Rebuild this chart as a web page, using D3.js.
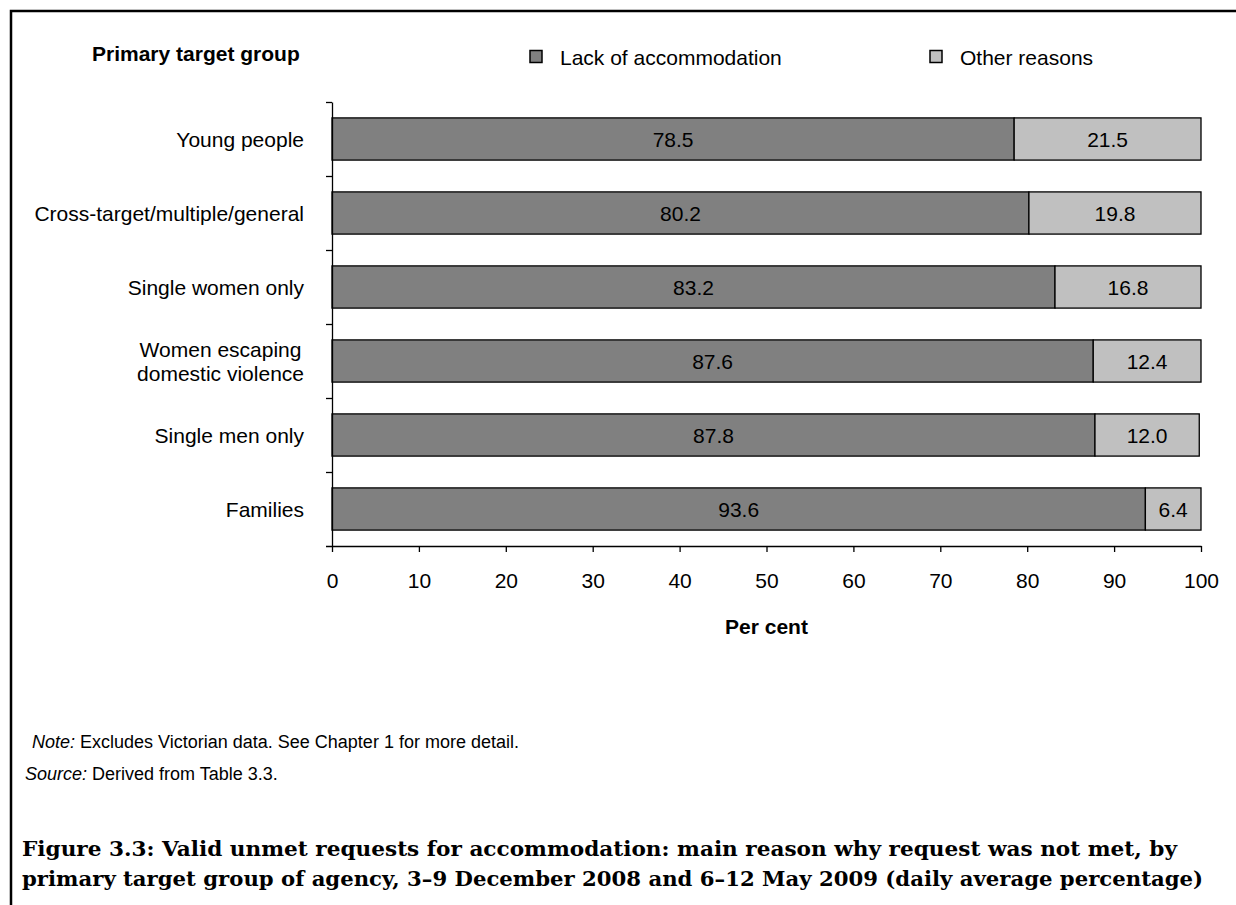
<!DOCTYPE html>
<html><head><meta charset="utf-8">
<script src="https://cdn.jsdelivr.net/npm/d3@7"></script>
<style>
body{margin:0;background:#fff;}
svg{display:block;font-family:Arial,"Liberation Sans",sans-serif;}
</style></head>
<body>
<svg id="chart" width="1236" height="905"></svg>
<script>
const categories = ["Young people","Cross-target/multiple/general","Single women only","Women escaping\ndomestic violence","Single men only","Families"];
const lackOfAccommodation = [78.5,80.2,83.2,87.6,87.8,93.6];
const otherReasons = [21.5,19.8,16.8,12.4,12.0,6.4];
const seriesNames = ["Lack of accommodation","Other reasons"];
const xTicks = [0,10,20,30,40,50,60,70,80,90,100];
const colors = ["#808080","#c0c0c0"];

const FS = 21;
const svg = d3.select("#chart");
svg.append("rect").attr("x",0).attr("y",0).attr("width",1236).attr("height",905).attr("fill","#fff");
// frame: top and left lines
svg.append("path").attr("d","M11,905V11H1236").attr("fill","none").attr("stroke","#000").attr("stroke-width",2.5);

const m = {left:332, top:102, width:869, height:444};
const g = svg.append("g").attr("transform",`translate(${m.left},${m.top})`);
const x = d3.scaleLinear().domain([0,100]).range([0,m.width]);
const y = d3.scaleBand().domain(categories).range([0,m.height]).paddingInner(0.43).paddingOuter(0.215);
const yb = d3.scaleLinear().domain([0,categories.length]).range([0,m.height]);

const rows = categories.map((c,i)=>({cat:c, vals:[lackOfAccommodation[i], otherReasons[i]]}));
rows.forEach(r=>{
  let acc=0;
  r.vals.forEach((v,k)=>{
    const x0=acc; acc+=v;
    g.append("rect").attr("x",x(x0)).attr("y",y(r.cat)).attr("width",x(acc)-x(x0)).attr("height",y.bandwidth())
      .attr("fill",colors[k]).attr("stroke","#000").attr("stroke-width",1.3);
    g.append("text").attr("x",(x(x0)+x(acc))/2).attr("y",y(r.cat)+y.bandwidth()/2).attr("dy","0.36em")
      .attr("text-anchor","middle").attr("font-size",FS).attr("fill","#000").text(d3.format(".1f")(v));
  });
});

// axes
const xa = g.append("g").attr("transform",`translate(0,${m.height})`)
  .call(d3.axisBottom(x).tickValues(xTicks).tickSize(6).tickSizeOuter(0).tickPadding(21));
xa.selectAll("text").attr("font-size",FS).attr("font-family","Arial,'Liberation Sans',sans-serif").attr("fill","#000");
xa.select(".domain").attr("d",`M-6,0.5H${m.width+0.5}`).attr("stroke","#000").attr("stroke-width",1.3);
xa.selectAll(".tick line").attr("stroke","#000").attr("stroke-width",1.3);

const ya = g.append("g").call(d3.axisLeft(yb).tickValues(d3.range(0,categories.length)).tickFormat("").tickSize(6).tickSizeOuter(0));
ya.select(".domain").attr("stroke","#000").attr("stroke-width",1.3);
ya.selectAll(".tick line").attr("stroke","#000").attr("stroke-width",1.3);

// category labels
categories.forEach(c=>{
  const lines=c.split("\n");
  const t=svg.append("text").attr("font-size",FS).attr("fill","#000");
  const cy=m.top+y(c)+y.bandwidth()/2;
  if(lines.length===1){
    t.attr("x",m.left-28).attr("y",cy).attr("dy","0.36em").attr("text-anchor","end").text(c);
  } else {
    t.attr("text-anchor","middle");
    lines.forEach((l,i)=>t.append("tspan").attr("x",0).attr("y",cy+(i-(lines.length-1)/2)*24).attr("dy","0.36em").text(l));
    const w=t.node().getBBox().width;
    t.selectAll("tspan").attr("x",m.left-28-w/2);
  }
});

svg.append("text").attr("x",m.left+m.width/2).attr("y",634).attr("text-anchor","middle").attr("font-size",FS).attr("font-weight","bold").text("Per cent");
svg.append("text").attr("x",92).attr("y",61).attr("font-size",FS).attr("font-weight","bold").text("Primary target group");

// legend
const legX=[530,930];
seriesNames.forEach((s,i)=>{
  svg.append("rect").attr("x",legX[i]).attr("y",50.5).attr("width",12).attr("height",12).attr("fill",colors[i]).attr("stroke","#000").attr("stroke-width",1.5);
  svg.append("text").attr("x",legX[i]+30).attr("y",65).attr("font-size",FS).text(s);
});

// notes
const note=svg.append("text").attr("x",32).attr("y",748).attr("font-size",18);
note.append("tspan").attr("font-style","italic").text("Note:");
note.append("tspan").text(" Excludes Victorian data. See Chapter 1 for more detail.");
const src=svg.append("text").attr("x",25).attr("y",780).attr("font-size",18);
src.append("tspan").attr("font-style","italic").text("Source:");
src.append("tspan").text(" Derived from Table 3.3.");

// title
const titleLines=["Figure 3.3: Valid unmet requests for accommodation: main reason why request was not met, by","primary target group of agency, 3\u20139 December 2008 and 6\u201312 May 2009 (daily average percentage)"];
const titleLen=[1155,1181];
titleLines.forEach((l,i)=>svg.append("text").attr("x",22).attr("y",856+i*30)
  .attr("font-family","'DejaVu Serif','Liberation Serif',serif").attr("font-weight","bold").attr("font-size",20)
  .attr("textLength",titleLen[i]).attr("lengthAdjust","spacingAndGlyphs").text(l));
</script>
</body></html>
